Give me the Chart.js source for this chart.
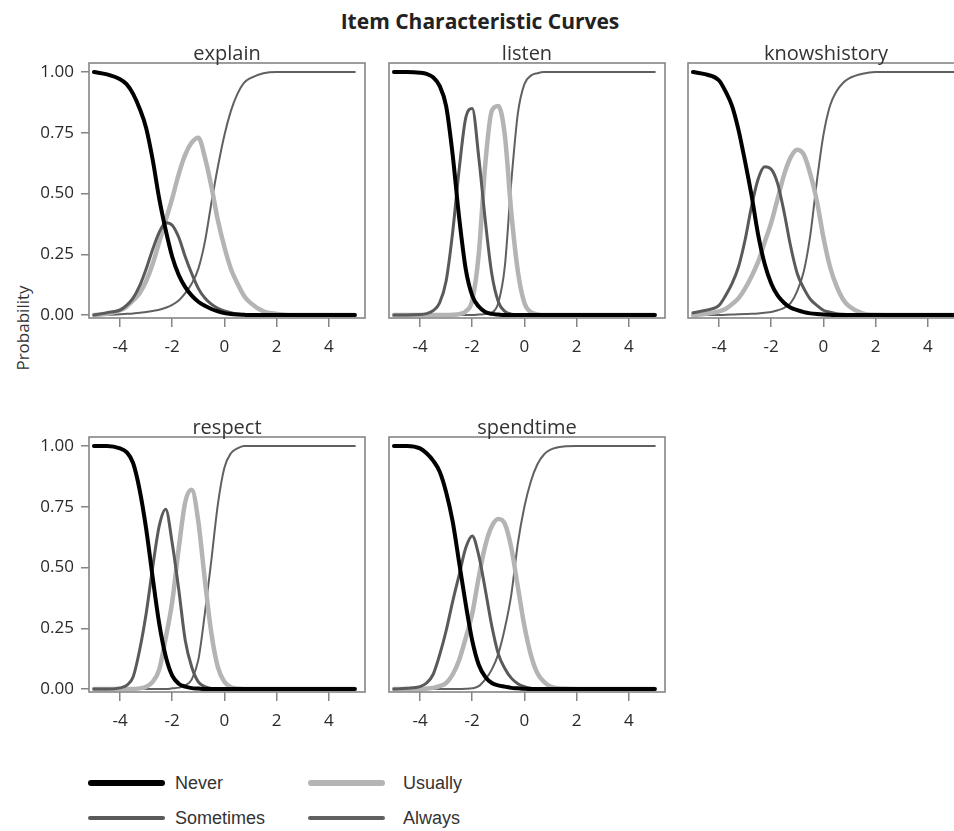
<!DOCTYPE html>
<html>
<head>
<meta charset="utf-8">
<script src="https://cdn.jsdelivr.net/npm/chart.js@4.4.1/dist/chart.umd.min.js"></script>
<style>
  body { margin: 0; width: 954px; height: 831px; overflow: hidden; position: relative; background: #fff; font-family: "Open Sans", sans-serif; }
  canvas.panel { position: absolute; }
  #title { position: absolute; left: 0; top: 7px; width: 960px; text-align: center; font-weight: bold; font-size: 21px; line-height: 29px; color: #222; }
  #ylab { position: absolute; left: 22px; top: 328px; transform: translate(-50%, -50%) rotate(-90deg); font-size: 17px; color: #333; white-space: nowrap; }
  .leg { position: absolute; display: flex; align-items: center; font-family: "Liberation Sans", Arial, sans-serif; font-size: 18px; color: #333; }
  .leg i { display: inline-block; width: 77px; margin-right: 10px; border-radius: 3px; }
</style>
</head>
<body>
<div id="title">Item Characteristic Curves</div>
<div id="ylab">Probability</div>
<div id="legend"></div>

<script>
const thetaGrid = [-5, -4.5, -4, -3.75, -3.5, -3.25, -3, -2.75, -2.5, -2.25, -2, -1.75, -1.5, -1.25, -1, -0.75, -0.5, -0.25, 0, 0.25, 0.5, 0.75, 1, 1.5, 2, 3, 5];
const categories = ['Never', 'Sometimes', 'Usually', 'Always'];
const xTickValues = [-4, -2, 0, 2, 4];
const yTickValues = [0, 0.25, 0.5, 0.75, 1];

// explain
const explainNever     = [1, 0.99, 0.97, 0.95, 0.91, 0.85, 0.77, 0.64, 0.48, 0.35, 0.24, 0.165, 0.115, 0.08, 0.055, 0.038, 0.025, 0.015, 0.008, 0.004, 0.002, 0.001, 0, 0, 0, 0, 0];
const explainSometimes = [0, 0.01, 0.02, 0.04, 0.07, 0.12, 0.19, 0.27, 0.34, 0.38, 0.37, 0.32, 0.24, 0.17, 0.11, 0.07, 0.045, 0.028, 0.017, 0.01, 0.005, 0.002, 0, 0, 0, 0, 0];
const explainUsually   = [0, 0.005, 0.02, 0.035, 0.06, 0.09, 0.14, 0.21, 0.30, 0.39, 0.48, 0.58, 0.66, 0.71, 0.73, 0.65, 0.53, 0.39, 0.28, 0.19, 0.13, 0.08, 0.05, 0.015, 0.005, 0, 0];
const explainAlways    = [0, 0, 0.003, 0.005, 0.007, 0.01, 0.013, 0.017, 0.022, 0.03, 0.042, 0.06, 0.09, 0.13, 0.19, 0.30, 0.46, 0.61, 0.74, 0.84, 0.91, 0.955, 0.975, 0.995, 1, 1, 1];

// listen
const listenNever     = [1, 1, 0.997, 0.992, 0.978, 0.943, 0.86, 0.66, 0.40, 0.19, 0.08, 0.035, 0.013, 0.005, 0.002, 0, 0, 0, 0, 0, 0, 0, 0, 0, 0, 0, 0];
const listenSometimes = [0, 0, 0.002, 0.006, 0.018, 0.05, 0.14, 0.34, 0.60, 0.81, 0.85, 0.65, 0.39, 0.17, 0.055, 0.015, 0.004, 0.001, 0, 0, 0, 0, 0, 0, 0, 0, 0];
const listenUsually   = [0, 0, 0, 0, 0, 0, 0, 0.001, 0.004, 0.015, 0.06, 0.25, 0.62, 0.84, 0.86, 0.74, 0.42, 0.18, 0.05, 0.012, 0.003, 0, 0, 0, 0, 0, 0];
const listenAlways    = [0, 0, 0, 0, 0, 0, 0, 0, 0, 0, 0, 0.002, 0.004, 0.01, 0.05, 0.20, 0.55, 0.83, 0.95, 0.985, 0.995, 1, 1, 1, 1, 1, 1];

// knowshistory
const knowsNever     = [1, 0.99, 0.965, 0.92, 0.86, 0.76, 0.63, 0.49, 0.33, 0.21, 0.13, 0.08, 0.05, 0.03, 0.02, 0.012, 0.007, 0.004, 0.002, 0.001, 0, 0, 0, 0, 0, 0, 0];
const knowsSometimes = [0.01, 0.02, 0.04, 0.08, 0.13, 0.20, 0.31, 0.45, 0.56, 0.61, 0.60, 0.54, 0.42, 0.28, 0.17, 0.11, 0.065, 0.04, 0.02, 0.012, 0.006, 0.003, 0.001, 0, 0, 0, 0];
const knowsUsually   = [0, 0.005, 0.015, 0.025, 0.045, 0.07, 0.11, 0.16, 0.22, 0.30, 0.38, 0.48, 0.58, 0.65, 0.68, 0.66, 0.58, 0.47, 0.32, 0.20, 0.12, 0.065, 0.035, 0.007, 0.001, 0, 0];
const knowsAlways    = [0, 0, 0, 0.001, 0.002, 0.003, 0.004, 0.005, 0.007, 0.01, 0.013, 0.02, 0.03, 0.05, 0.10, 0.18, 0.33, 0.55, 0.74, 0.86, 0.92, 0.955, 0.975, 0.993, 1, 1, 1];

// respect
const respectNever     = [1, 1, 0.99, 0.975, 0.93, 0.82, 0.66, 0.46, 0.27, 0.135, 0.055, 0.022, 0.01, 0.004, 0.002, 0, 0, 0, 0, 0, 0, 0, 0, 0, 0, 0, 0];
const respectSometimes = [0, 0, 0.005, 0.015, 0.05, 0.16, 0.31, 0.50, 0.67, 0.74, 0.60, 0.41, 0.20, 0.09, 0.03, 0.01, 0.003, 0, 0, 0, 0, 0, 0, 0, 0, 0, 0];
const respectUsually   = [0, 0, 0, 0, 0, 0.003, 0.01, 0.03, 0.08, 0.21, 0.36, 0.58, 0.77, 0.82, 0.69, 0.45, 0.23, 0.09, 0.03, 0.008, 0.002, 0, 0, 0, 0, 0, 0];
const respectAlways    = [0, 0, 0, 0, 0, 0, 0, 0, 0, 0, 0.003, 0.006, 0.015, 0.04, 0.12, 0.31, 0.53, 0.76, 0.91, 0.97, 0.99, 1, 1, 1, 1, 1, 1];

// spendtime
const spendNever     = [1, 1, 0.99, 0.97, 0.94, 0.895, 0.81, 0.69, 0.52, 0.35, 0.20, 0.10, 0.05, 0.025, 0.015, 0.01, 0.005, 0.003, 0.001, 0, 0, 0, 0, 0, 0, 0, 0];
const spendSometimes = [0, 0.003, 0.01, 0.025, 0.06, 0.14, 0.24, 0.36, 0.47, 0.58, 0.63, 0.55, 0.41, 0.26, 0.145, 0.085, 0.045, 0.022, 0.01, 0.004, 0.001, 0, 0, 0, 0, 0, 0];
const spendUsually   = [0, 0, 0, 0.002, 0.005, 0.012, 0.025, 0.06, 0.12, 0.21, 0.31, 0.46, 0.59, 0.67, 0.70, 0.68, 0.58, 0.42, 0.26, 0.14, 0.065, 0.03, 0.01, 0.002, 0, 0, 0];
const spendAlways    = [0, 0, 0, 0, 0, 0, 0, 0, 0, 0.001, 0.003, 0.012, 0.04, 0.08, 0.145, 0.25, 0.39, 0.60, 0.75, 0.855, 0.925, 0.965, 0.985, 0.998, 1, 1, 1];

// line look for each response category
const lineStyle = {
    Never:     { color: '#000000', width: 4 },
    Sometimes: { color: '#5a5a5a', width: 3 },
    Usually:   { color: '#b4b4b4', width: 4.5 },
    Always:    { color: '#606060', width: 2 }
};

// panel placement: box left/top, whether the y axis is labelled
const panels = [
    { item: 'explain',      series: [explainNever, explainSometimes, explainUsually, explainAlways], left: 89,  top: 63,  showY: true },
    { item: 'listen',       series: [listenNever, listenSometimes, listenUsually, listenAlways],     left: 389, top: 63,  showY: false },
    { item: 'knowshistory', series: [knowsNever, knowsSometimes, knowsUsually, knowsAlways],         left: 688, top: 63,  showY: false },
    { item: 'respect',      series: [respectNever, respectSometimes, respectUsually, respectAlways], left: 89,  top: 437, showY: true },
    { item: 'spendtime',    series: [spendNever, spendSometimes, spendUsually, spendAlways],         left: 389, top: 437, showY: false }
];

const BOX_W = 276, BOX_H = 255, Y_AXIS_W = 89, X_AXIS_H = 44, TITLE_H = 26, PAD = 2;
const tickFont = { family: 'Open Sans', size: 17 };

// draws the closed frame round each plot area
const framePlugin = {
    id: 'frame',
    afterDatasetsDraw(chart) {
        const a = chart.chartArea, c = chart.ctx;
        c.save();
        c.strokeStyle = '#858585';
        c.lineWidth = 1.6;
        c.strokeRect(a.left, a.top, a.right - a.left, a.bottom - a.top);
        c.restore();
    }
};

// item name centred over the plot area (not over the whole canvas)
const panelTitlePlugin = {
    id: 'panelTitle',
    afterDraw(chart, args, opts) {
        const a = chart.chartArea, c = chart.ctx;
        c.save();
        c.font = '20px "Open Sans"';
        c.fillStyle = '#333';
        c.textAlign = 'center';
        c.textBaseline = 'alphabetic';
        c.fillText(opts.text, (a.left + a.right) / 2, a.top - 3);
        c.restore();
    }
};

function drawPanel(p) {
    const canvas = document.createElement('canvas');
    canvas.className = 'panel';
    const yW = p.showY ? Y_AXIS_W : 0;
    const padL = p.showY ? 0 : PAD;
    canvas.width = yW + padL + BOX_W + PAD;
    canvas.height = TITLE_H + BOX_H + X_AXIS_H;
    canvas.style.left = (p.left - yW - padL) + 'px';
    canvas.style.top = (p.top - TITLE_H) + 'px';
    document.body.appendChild(canvas);

    const datasets = categories.map((cat, k) => ({
        label: cat,
        data: thetaGrid.map((t, i) => ({ x: t, y: p.series[k][i] })),
        borderColor: lineStyle[cat].color,
        borderWidth: lineStyle[cat].width,
        fill: false
    }));

    new Chart(canvas.getContext('2d'), {
        type: 'line',
        data: { datasets: datasets },
        options: {
            responsive: false,
            animation: false,
            events: [],
            layout: { padding: { left: padL, right: PAD, top: TITLE_H, bottom: 0 } },
            elements: {
                point: { radius: 0 },
                line: { cubicInterpolationMode: 'monotone', borderCapStyle: 'round', borderJoinStyle: 'round' }
            },
            plugins: {
                legend: { display: false },
                tooltip: { enabled: false },
                panelTitle: { text: p.item }
            },
            scales: {
                x: {
                    type: 'linear',
                    min: -5.19,
                    max: 5.39,
                    afterBuildTicks: s => { s.ticks = xTickValues.map(v => ({ value: v })); },
                    afterFit: s => { s.height = X_AXIS_H; },
                    border: { display: false },
                    grid: { drawOnChartArea: false, drawTicks: true, tickLength: 9, color: '#858585', lineWidth: 1.5 },
                    ticks: { color: '#2a2a2a', font: tickFont, padding: 10, maxRotation: 0, autoSkip: false }
                },
                y: {
                    type: 'linear',
                    display: p.showY,
                    min: -0.012,
                    max: 1.037,
                    afterBuildTicks: s => { s.ticks = yTickValues.map(v => ({ value: v })); },
                    afterFit: s => { s.width = p.showY ? Y_AXIS_W : 0; },
                    border: { display: false },
                    grid: { drawOnChartArea: false, drawTicks: true, tickLength: 8, color: '#858585', lineWidth: 1.5 },
                    ticks: { color: '#2a2a2a', font: tickFont, padding: 7, callback: v => v.toFixed(2) }
                }
            }
        },
        plugins: [framePlugin, panelTitlePlugin]
    });
}

panels.forEach(drawPanel);

// legend below the panels, two columns
const legendPlaces = [
    { cat: 'Never',     left: 88,  top: 783 },
    { cat: 'Sometimes', left: 88,  top: 818 },
    { cat: 'Usually',   left: 308, top: 783 },
    { cat: 'Always',    left: 308, top: 818 }
];
const legendBox = document.getElementById('legend');
legendPlaces.forEach(e => {
    const row = document.createElement('div');
    row.className = 'leg';
    row.style.left = e.left + 'px';
    row.style.top = (e.top - 11) + 'px';
    row.style.height = '22px';
    const sw = document.createElement('i');
    sw.style.height = (lineStyle[e.cat].width + 1.5) + 'px';
    sw.style.background = lineStyle[e.cat].color;
    const txt = document.createElement('span');
    txt.textContent = e.cat;
    txt.style.marginLeft = e.cat === 'Never' || e.cat === 'Sometimes' ? '0px' : '8px';
    row.appendChild(sw);
    row.appendChild(txt);
    legendBox.appendChild(row);
});
</script>
</body>
</html>
